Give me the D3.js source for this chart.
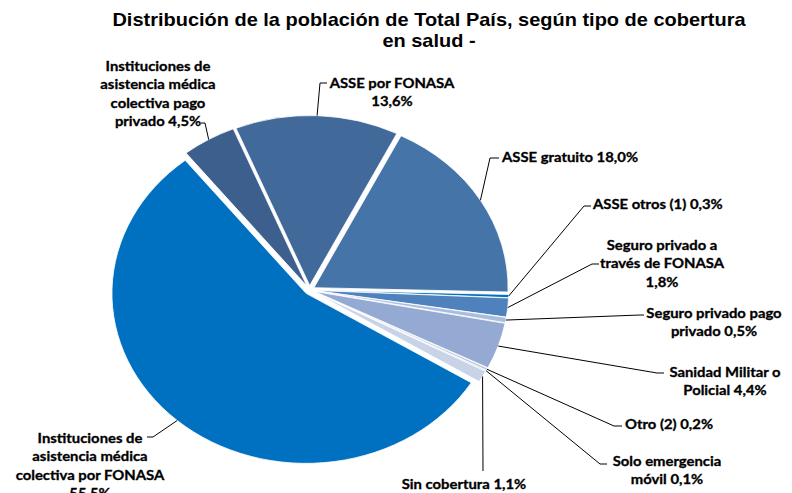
<!DOCTYPE html>
<html>
<head>
<meta charset="utf-8">
<script src="https://cdn.jsdelivr.net/npm/d3@7"></script>
<style>
  body { margin: 0; background: #fff; }
  text { font-family: Lato, "Open Sans", sans-serif; font-weight: 700; fill: #000; }
  .lbl { stroke: #000; stroke-width: 0.3px; }
</style>
</head>
<body>
<svg id="chart"></svg>
<script>
// ----- Data -----
const categories = [
  "Instituciones de asistencia médica colectiva por FONASA",
  "Instituciones de asistencia médica colectiva pago privado",
  "ASSE por FONASA",
  "ASSE gratuito",
  "ASSE otros (1)",
  "Seguro privado a través de FONASA",
  "Seguro privado pago privado",
  "Sanidad Militar o Policial",
  "Otro (2)",
  "Solo emergencia móvil",
  "Sin cobertura"
];
const values = [55.5, 4.5, 13.6, 18.0, 0.3, 1.8, 0.5, 4.4, 0.2, 0.1, 1.1];
const labelLines = [
  ["Instituciones de", "asistencia médica", "colectiva por FONASA", "55,5%"],
  ["Instituciones de", "asistencia médica", "colectiva pago", "privado 4,5%"],
  ["ASSE por FONASA", "13,6%"],
  ["ASSE gratuito 18,0%"],
  ["ASSE otros (1) 0,3%"],
  ["Seguro privado a", "través de FONASA", "1,8%"],
  ["Seguro privado pago", "privado 0,5%"],
  ["Sanidad Militar o", "Policial 4,4%"],
  ["Otro (2) 0,2%"],
  ["Solo emergencia", "móvil 0,1%"],
  ["Sin cobertura 1,1%"]
];
const titleLines = ["Distribución de la población de Total País, según tipo de cobertura", "en salud -"];

// ----- Styles / layout -----
const colors = ["#0070C0", "#3C5F8E", "#416A9B", "#4574A9", "#0070C0", "#4F81BD",
                "#A9BDDE", "#95AAD2", "#B0BED9", "#B8C4DC", "#C8D3E7"];

// label placement (as in the original): text anchor, first line centre, leader elbow and tick end
const labelLayout = [
  { x: 90,  y: 438, anchor: "middle", elbow: [153, 437], tick: 147 },
  { x: 158, y: 66,  anchor: "middle", elbow: [205, 123], tick: 201 },
  { x: 392, y: 83,  anchor: "middle", elbow: [320, 83],  tick: 327 },
  { x: 502, y: 157, anchor: "start",  elbow: [490, 158], tick: 499 },
  { x: 593, y: 204, anchor: "start",  elbow: [584, 206], tick: 591 },
  { x: 662, y: 245, anchor: "middle", elbow: [592, 264], tick: 599 },
  { x: 714, y: 313, anchor: "middle", elbow: [640, 315], tick: 644 },
  { x: 725, y: 372, anchor: "middle", elbow: [657, 373], tick: 664 },
  { x: 625, y: 424, anchor: "start",  elbow: [614, 426], tick: 622 },
  { x: 667, y: 461, anchor: "middle", elbow: [600, 464], tick: 607 },
  { x: 464, y: 484, anchor: "middle", elbow: [483, 471], tick: 483 }
];

const width = 792, height = 493;
const stretch = 1.142;              // the picture is wider than tall
const center = { x: 309.5, y: 290 };
const radius = 170, explode = 4.5;
const startAngle = 121.7 * Math.PI / 180;
const lineGap = 18.5;

// ----- SVG -----
const svg = d3.select("#chart")
    .attr("width", width)
    .attr("height", height);

// Title
svg.append("g")
    .attr("transform", `translate(429,0) scale(${stretch},1)`)
    .selectAll("text")
    .data(titleLines)
    .join("text")
    .attr("x", 0)
    .attr("y", (d, i) => 26 + i * 21)
    .attr("text-anchor", "middle")
    .style("font-family", "'Liberation Sans', Arial, sans-serif")
    .style("font-size", "17.5px")
    .text(d => d);

// ----- Pie -----
const pie = d3.pie().sort(null).value(d => d)
    .startAngle(startAngle).endAngle(startAngle + 2 * Math.PI);
const arcs = pie(values);
const arc = d3.arc().innerRadius(0).outerRadius(radius);

const mid = d => (d.startAngle + d.endAngle) / 2;
const toScreen = (a, r) => [center.x + stretch * Math.sin(a) * r, center.y - Math.cos(a) * r];

const pieG = svg.append("g")
    .attr("transform", `translate(${center.x},${center.y}) scale(${stretch},1)`);

pieG.selectAll("path")
    .data(arcs)
    .join("path")
    .attr("transform", d => `translate(${Math.sin(mid(d)) * explode},${-Math.cos(mid(d)) * explode})`)
    .attr("d", arc)
    .attr("fill", (d, i) => colors[i])
    .attr("stroke", "#fff")
    .attr("stroke-width", 0.8)
    .attr("vector-effect", "non-scaling-stroke");

// ----- Leader lines -----
svg.append("g")
    .selectAll("path")
    .data(arcs)
    .join("path")
    .attr("fill", "none")
    .attr("stroke", "#000")
    .attr("stroke-width", 1)
    .attr("d", (d, i) => {
        const p = toScreen(mid(d), radius + explode);
        const L = labelLayout[i];
        return d3.line()([p, L.elbow, [L.tick, L.elbow[1]]]);
    });

// ----- Labels -----
const labels = svg.append("g")
    .selectAll("text")
    .data(arcs)
    .join("text")
    .attr("class", "lbl")
    .attr("transform", (d, i) => `translate(${labelLayout[i].x},${labelLayout[i].y}) scale(${stretch},1)`)
    .attr("text-anchor", (d, i) => labelLayout[i].anchor)
    .style("font-size", "13px");

labels.selectAll("tspan")
    .data((d, i) => labelLines[i])
    .join("tspan")
    .attr("x", 0)
    .attr("y", (d, j) => j * lineGap)
    .attr("dy", "0.35em")
    .text(d => d);
</script>
</body>
</html>
